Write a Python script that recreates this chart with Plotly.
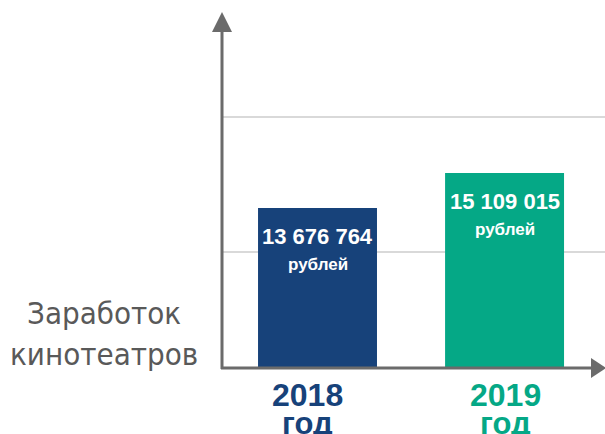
import plotly.graph_objects as go

categories = ["2018", "2019"]
earnings = [13676764, 15109015]
unit_label = "рублей"
year_suffix = "год"
axis_title_lines = ["Заработок", "кинотеатров"]
bar_colors = ["#17427A", "#05A886"]
grid_values = [11876000, 17400000]

W, H = 605, 434
ML, MR, MT, MB = 221, 0, 0, 66
PW, PH = W - ML - MR, H - MT - MB


def px(x):
    return (x - ML) / PW


def py(y):
    return (H - MB - y) / PH


def fmt(v):
    return f"{v:,}".replace(",", " ")


fig = go.Figure()
fig.add_trace(go.Bar(
    x=categories, y=earnings, marker=dict(color=bar_colors, line=dict(width=0)),
    width=0.636, hoverinfo="skip",
))

BOLD = "Liberation Sans, Arial, sans-serif"
COND = "DejaVu Sans Condensed, Liberation Sans, sans-serif"

annotations = []
for i, (cat, val, col) in enumerate(zip(categories, earnings, bar_colors)):
    annotations.append(dict(x=i, y=val, xref="x", yref="y", text="<b>" + fmt(val) + "</b>",
                            showarrow=False, yanchor="middle", yshift=-28,
                            font=dict(family=BOLD, size=22, color="white")))
    annotations.append(dict(x=i, y=val, xref="x", yref="y", text="<b>" + unit_label + "</b>",
                            showarrow=False, yanchor="middle", yshift=-56,
                            font=dict(family=BOLD, size=17, color="white")))
    annotations.append(dict(x=i, y=py(395), xref="x", yref="paper", text="<b>" + cat + "</b>",
                            showarrow=False, yanchor="middle", xshift=-10 if i == 0 else 1,
                            font=dict(family=BOLD, size=32, color=col)))
    annotations.append(dict(x=i, y=py(423), xref="x", yref="paper", text="<b>" + year_suffix + "</b>",
                            showarrow=False, yanchor="middle", xshift=-10 if i == 0 else 1,
                            font=dict(family=BOLD, size=31, color=col)))

for i, line in enumerate(axis_title_lines):
    annotations.append(dict(x=px(104), y=py(313 + 41 * i), xref="paper", yref="paper",
                            text=line, showarrow=False, xanchor="center", yanchor="middle",
                            font=dict(family=COND, size=31, color="#595959")))

AX = "#6B6B6B"
shapes = [
    dict(type="line", xref="paper", yref="paper", x0=px(222), x1=px(222), y0=py(369), y1=py(30),
         line=dict(color=AX, width=3)),
    dict(type="path", xref="paper", yref="paper",
         path=f"M {px(212)} {py(32)} L {px(232)} {py(32)} L {px(222)} {py(12)} Z",
         fillcolor=AX, line=dict(width=0)),
    dict(type="line", xref="paper", yref="paper", x0=px(221), x1=px(593), y0=py(368), y1=py(368),
         line=dict(color=AX, width=3)),
    dict(type="path", xref="paper", yref="paper",
         path=f"M {px(591)} {py(358)} L {px(591)} {py(378)} L {px(606)} {py(368)} Z",
         fillcolor=AX, line=dict(width=0)),
]

fig.update_layout(
    width=W, height=H, margin=dict(l=ML, r=MR, t=MT, b=MB),
    paper_bgcolor="white", plot_bgcolor="white", showlegend=False,
    annotations=annotations, shapes=shapes,
    xaxis=dict(type="category", range=[-0.516, 1.537], showticklabels=False,
               showgrid=False, zeroline=False, showline=False, fixedrange=True),
    yaxis=dict(range=[7129331, 22188259], tickvals=grid_values, showticklabels=False,
               showgrid=True, gridcolor="#D9D9D9", gridwidth=2, zeroline=False,
               showline=False, fixedrange=True),
)

fig.write_html("out.html", config={"displayModeBar": False},
               post_script="document.body.style.margin='0';document.body.style.overflow='hidden';")
